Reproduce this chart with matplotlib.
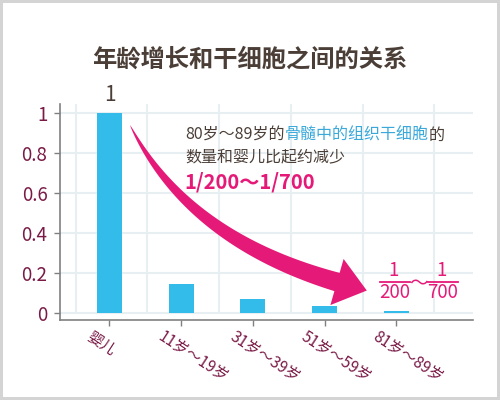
import numpy as np
import matplotlib
matplotlib.use("Agg")
import matplotlib.pyplot as plt
from matplotlib.patches import Polygon
from matplotlib.lines import Line2D
from matplotlib.transforms import ScaledTranslation

plt.rcParams['font.family'] = ['Noto Sans CJK SC', 'DejaVu Sans']
plt.rcParams['font.weight'] = 'medium'

# data
categories = ['婴儿', '11岁～19岁', '31岁～39岁', '51岁～59岁', '81岁～89岁']
ratios = [1.0, 0.143, 0.067, 0.033, 0.01]
y_ticks = [0, 0.2, 0.4, 0.6, 0.8, 1.0]
y_tick_labels = ['0', '0.2', '0.4', '0.6', '0.8', '1']
title = '年龄增长和干细胞之间的关系'
top_label = '1'

BROWN = '#4b3e37'
BLUE_BAR = '#33bbea'
BLUE_TXT = '#3aa9da'
PINK = '#e51a78'
MAROON = '#7a1a47'
GRID = '#e8eff2'
SPINE = '#808080'

W, H = 500, 400
fig = plt.figure(figsize=(W / 100, H / 100), dpi=100)
fig.patch.set_facecolor('white')
fig.patch.set_edgecolor('#d4d4d4')
fig.patch.set_linewidth(3)


def px(x, y):
    """pixel position (y down) -> figure fraction"""
    return x / W, 1 - y / H


ax = fig.add_axes([0.12, 0.20, 0.826, 0.54])
x = np.arange(len(categories))
ax.bar(x, ratios, width=0.35, color=BLUE_BAR, zorder=3)
ax.set_xlim(-0.69, 5.07)
ax.set_ylim(-0.0365, 1.0435)

# grid
for yv in y_ticks:
    ax.axhline(yv, color=GRID, lw=1.5, zorder=1)
ax.vlines(np.arange(len(categories) + 1) - 0.47, 0, 1.0435, color=GRID, lw=1.5, zorder=1)

for s in ['top', 'right']:
    ax.spines[s].set_visible(False)
for s in ['left', 'bottom']:
    ax.spines[s].set_color(SPINE)
    ax.spines[s].set_linewidth(1.2)

ax.set_yticks(y_ticks)
ax.set_yticklabels(y_tick_labels)
ax.tick_params(axis='y', direction='out', length=4, width=1, color=SPINE,
               labelcolor=MAROON, labelsize=13.5, pad=5)
ax.set_xticks(x)
ax.set_xticklabels(categories, rotation=-33, ha='left', va='top', rotation_mode='anchor')
ax.tick_params(axis='x', direction='out', length=4, width=1, color=SPINE,
               labelcolor=MAROON, labelsize=11, pad=2)
shift = ScaledTranslation(-17 / 100, 0, fig.dpi_scale_trans)
for lab in ax.get_xticklabels():
    lab.set_transform(lab.get_transform() + shift)

ax.annotate(top_label, xy=(x[0], ratios[0]), xytext=(0, 5), textcoords='offset points',
            ha='center', va='bottom', fontsize=15, color=BROWN)

fig.text(*px(250, 60), title, ha='center', va='center', fontsize=17.5,
         fontweight='bold', color=BROWN)

# note text
t1 = fig.text(*px(185, 135), '80岁～89岁的', ha='left', va='center', fontsize=11.5, color=BROWN)
t2 = ax.annotate('骨髓中的组织干细胞', xy=(1, 0), xycoords=t1, va='bottom', ha='left',
                 fontsize=11.5, color=BLUE_TXT)
ax.annotate('的', xy=(1, 0), xycoords=t2, va='bottom', ha='left', fontsize=11.5, color=BROWN)
fig.text(*px(185, 158), '数量和婴儿比起约减少', ha='left', va='center', fontsize=11.5, color=BROWN)
fig.text(*px(184, 182), '1/200～1/700', ha='left', va='center', fontsize=14.5,
         fontweight='bold', color=PINK)

# curved tapered arrow
p0 = np.array([130.0, 125.0])
p1 = np.array([187.0, 239.0])
p2 = np.array([337.0, 282.0])
t = np.linspace(0, 1, 80)
curve = ((1 - t)[:, None] ** 2) * p0 + (2 * (1 - t) * t)[:, None] * p1 + (t ** 2)[:, None] * p2
deriv = (2 * (1 - t))[:, None] * (p1 - p0) + (2 * t)[:, None] * (p2 - p1)
deriv /= np.linalg.norm(deriv, axis=1)[:, None]
normal = np.column_stack([-deriv[:, 1], deriv[:, 0]])
half = 9.5 * t ** 0.7
side_a = curve + normal * half[:, None]
side_b = curve - normal * half[:, None]
d_end = deriv[-1]
n_end = normal[-1]
tip = p2 + 31 * d_end
barb_a = p2 + 24 * n_end
barb_b = p2 - 24 * n_end
pts = np.vstack([side_a, barb_a, tip, barb_b, side_b[::-1]])
fig_pts = np.column_stack([pts[:, 0] / W, 1 - pts[:, 1] / H])
fig.add_artist(Polygon(fig_pts, closed=True, transform=fig.transFigure,
                       facecolor=PINK, edgecolor='none', zorder=5))

# fractions 1/200 ~ 1/700
for cx, den in [(395, '200'), (443, '700')]:
    fig.text(*px(cx - 1, 270), '1', ha='center', va='center', fontsize=13.5, color=PINK)
    fig.text(*px(cx, 293), den, ha='center', va='center', fontsize=13.5, color=PINK)
    fig.add_artist(Line2D([(cx - 15) / W, (cx + 15) / W], [1 - 282 / H, 1 - 282 / H],
                          transform=fig.transFigure, color=PINK, lw=1.3))
fig.text(*px(419, 284), '～', ha='center', va='center', fontsize=13.5, color=PINK)

fig.savefig('out.png', dpi=100, facecolor=fig.get_facecolor(), edgecolor=fig.get_edgecolor())
